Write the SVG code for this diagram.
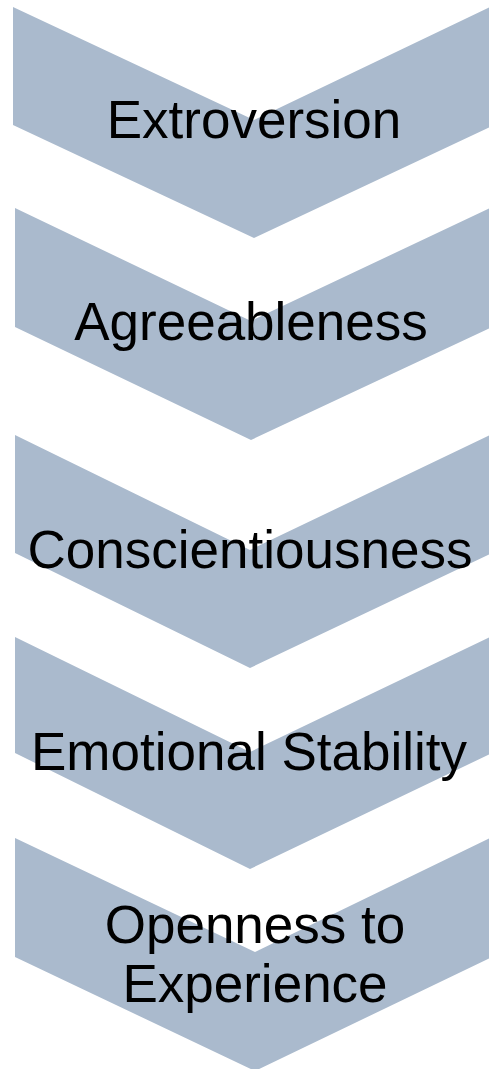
<svg xmlns="http://www.w3.org/2000/svg" width="489" height="1069" viewBox="0 0 489 1069">
  <style>
    .chevron { fill: #AABACD; stroke: none; }
    .label { font-family: "Liberation Sans", Arial, sans-serif; font-size: 53px; fill: #000000; text-anchor: middle; }
  </style>
  <rect x="0" y="0" width="489" height="1069" fill="#FFFFFF"/>

  <!-- step chevrons, top to bottom -->
  <g id="extroversion">
    <polygon class="chevron" points="13,7 254,120 490,7 490,127 254,238 13,125"/>
    <text class="label" x="254" y="138">Extroversion</text>
  </g>
  <g id="agreeableness">
    <polygon class="chevron" points="15,208 251,321 490,208 490,328 251,440 15,327"/>
    <text class="label" x="251" y="340">Agreeableness</text>
  </g>
  <g id="conscientiousness">
    <polygon class="chevron" points="15,435 250,550 490,435 490,554 250,668 15,553"/>
    <text class="label" x="250" y="568">Conscientiousness</text>
  </g>
  <g id="emotional-stability">
    <polygon class="chevron" points="15,637 250,752 490,637 490,754 250,869 15,753"/>
    <text class="label" x="249" y="770">Emotional Stability</text>
  </g>
  <g id="openness">
    <polygon class="chevron" points="15,838 255,952 490,838 490,958 255,1071 15,957"/>
    <text class="label" x="255" y="943">Openness to</text>
    <text class="label" x="255" y="1002">Experience</text>
  </g>

  <!-- the steps are stacked directly; there are no separate connectors -->
  <g id="connectors"/>
</svg>
